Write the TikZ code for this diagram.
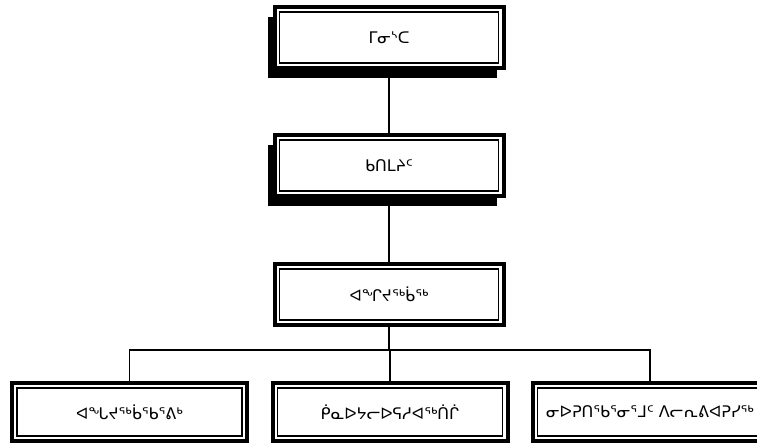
\documentclass[tikz,border=0pt]{standalone}
\usepackage{fontspec}
\newfontfamily\syll{DejaVu Sans}
\usetikzlibrary{shadows}

\begin{document}
\begin{tikzpicture}[x=1pt, y=-1pt,
    unit/.style={draw, line width=4pt, fill=white, minimum width=229pt,
      minimum height=61pt, font=\syll\fontsize{16}{18}\selectfont},
    section/.style={unit, minimum width=235pt, minimum height=58pt},
    raised/.style={drop shadow={shadow xshift=-7pt, shadow yshift=-10pt,
      fill=black, opacity=1}},
    rim/.style={line width=1.2pt},
    link/.style={line width=1.2pt}]

  \useasboundingbox (0,0) rectangle (757,445);

  \node[unit,raised] (min) at (389,37.5) {ᒥᓂᔅᑕ};
  \node[unit,raised] (dep) at (389,165.5) {ᑲᑎᒪᔨᑦ};
  \node[unit] (dir) at (389,294.5) {ᐊᖏᔪᖅᑳᖅ};

  \node[section] (hq) at (129.5,412) {ᐊᖓᔪᖅᑳᖃᕐᕕᒃ};
  \node[section] (fin) at (390,412) {ᑮᓇᐅᔭᓕᐅᕋᓱᐊᖅᑏᒌ};
  \node[section] (pur) at (650,412) {ᓂᐅᕈᑎᖃᕐᓂᕐᒧᑦ ᐱᓕᕆᕕᐊᕈᓯᖅ};

  \foreach \n in {min,dep,dir,hq,fin,pur}
    \draw[rim] ([shift={(7pt,7pt)}]\n.south west)
      rectangle ([shift={(-7pt,-7pt)}]\n.north east);

  \coordinate (bus) at (389,350);

  \draw[link] (min) -- (dep);
  \draw[link] (dep) -- (dir);
  \draw[link] (dir) -- (bus);
  \foreach \n in {hq,fin,pur}
    \draw[link] (bus) -| (\n);

\end{tikzpicture}
\end{document}
